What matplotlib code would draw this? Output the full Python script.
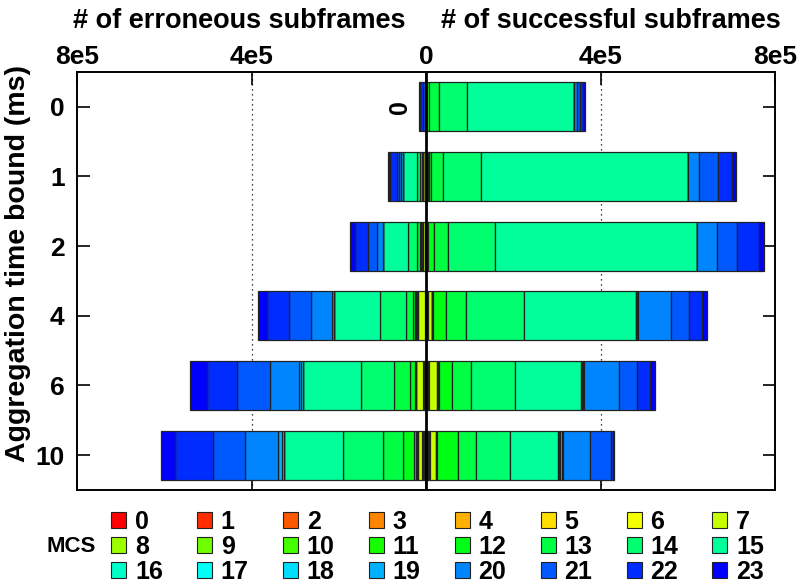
import numpy as np
import matplotlib.pyplot as plt
from matplotlib.colors import hsv_to_rgb
from matplotlib.patches import Patch

plt.rcParams['font.family'] = ['Liberation Sans', 'DejaVu Sans']
plt.rcParams['font.weight'] = 'bold'

# aggregation time bounds (ms), one bar each
bounds = ['0', '1', '2', '4', '6', '10']
mcs = list(range(24))

# subframe counts per MCS 0..23, in thousands
ok_0 = [0, 0, 0, 0, 0, 0, 0, 1.0, 0, 0, 0, 0, 6.7, 21.5, 65.3, 244.3, 0, 0, 0, 0, 7.7, 6.9, 5.4, 4.6]
ok_1 = [0, 0, 0, 0, 0, 0, 0, 3.0, 0, 0, 1.5, 2.2, 4.0, 27.7, 86.8, 475.6, 0, 0, 0, 0, 25.4, 43.8, 32.3, 7.7]
ok_2 = [0, 0, 0, 0, 0, 0, 1.0, 4.4, 0, 0, 0, 0, 13.8, 30.7, 107.6, 464.0, 0, 0, 0, 0, 46.1, 46.1, 48.4, 11.5]
ok_4 = [0, 0, 0, 0, 0, 2.0, 3.0, 8.8, 0, 0, 0, 2.0, 30.7, 44.6, 133.7, 255.9, 1.5, 1.0, 1.2, 1.7, 74.6, 42.3, 30.7, 10.0]
ok_6 = [0, 0, 0, 1.0, 1.5, 2.2, 3.0, 18.4, 1.0, 1.2, 1.2, 1.2, 28.4, 43.8, 100.6, 151.4, 2.0, 1.5, 2.0, 2.2, 79.1, 41.5, 29.2, 11.5]
ok_10 = [0, 0, 1.0, 1.5, 2.0, 2.5, 2.5, 13.0, 0.8, 0.8, 0.8, 0.8, 46.5, 43.0, 76.8, 110.6, 3.0, 2.5, 3.3, 3.5, 60.7, 48.4, 5.7, 2.0]

err_0 = [0, 0, 0, 0, 0, 0, 0, 0, 0, 0, 0, 0, 0, 0, 0, 1.5, 0, 0, 0, 0, 2.0, 3.5, 6.1, 3.8]
err_1 = [0, 0, 0, 0, 0, 0, 0, 6.1, 0, 1.0, 0, 1.0, 1.1, 4.6, 6.1, 32.3, 0, 0, 0, 5.4, 4.6, 5.4, 15.4, 3.8]
err_2 = [0, 0, 0, 0, 0, 0, 2.0, 5.0, 2.5, 1.5, 1.0, 1.0, 0.8, 6.2, 20.7, 57.6, 0, 0, 0, 0, 13.8, 20.7, 29.2, 11.5]
err_4 = [0, 0, 0, 0, 0, 1.5, 1.5, 15.4, 1.5, 1.5, 2.0, 2.8, 3.7, 16.1, 59.2, 106.0, 0, 0, 0, 5.4, 46.1, 51.4, 50.0, 21.5]
err_6 = [0, 0, 0, 1.0, 1.5, 2.2, 3.0, 15.4, 0.5, 0.5, 0.5, 0, 12.3, 36.9, 74.6, 134.5, 0, 0, 3.2, 6.0, 66.1, 74.6, 69.2, 38.4]
err_10 = [0, 0, 1.0, 1.5, 2.0, 2.5, 3.0, 9.0, 2.5, 1.3, 1.0, 3.0, 25.4, 46.1, 92.2, 136.0, 0, 0, 4.0, 9.8, 75.3, 72.2, 86.8, 32.3]

ok = np.array([ok_0, ok_1, ok_2, ok_4, ok_6, ok_10]) * 1e3
err = np.array([err_0, err_1, err_2, err_4, err_6, err_10]) * 1e3

# rainbow from red (MCS 0) to blue (MCS 23)
colors = [hsv_to_rgb((m / 23 * 2 / 3, 1, 1)) for m in mcs]

fig = plt.figure(figsize=(8, 5.84), dpi=100)
ax = fig.add_axes([0.0963, 0.161, 0.8725, 0.7157])

y = np.arange(len(bounds))
left_ok = np.zeros(len(bounds))
left_err = np.zeros(len(bounds))
for m in mcs:
    ax.barh(y, ok[:, m], left=left_ok, height=0.7, color=colors[m],
            edgecolor='#222222', linewidth=0.9, zorder=2)
    ax.barh(y, -err[:, m], left=-left_err, height=0.7, color=colors[m],
            edgecolor='#222222', linewidth=0.9, zorder=2)
    left_ok += ok[:, m]
    left_err += err[:, m]

ax.axvline(0, color='k', lw=2, zorder=5)
for gx in (-4e5, 4e5):
    ax.axvline(gx, color='k', lw=0.9, linestyle=(0, (1, 3)), zorder=1)

ax.text(-6e4, 0, '0', rotation=90, ha='center', va='center', fontsize=18, fontweight='bold')

ax.set_xlim(-8e5, 8e5)
ax.set_ylim(5.5, -0.5)
ax.set_xticks([-8e5, -4e5, 0, 4e5, 8e5])
ax.set_xticklabels(['8e5', '4e5', '0', '4e5', '8e5'])
ax.set_yticks(y)
ax.set_yticklabels(bounds)
ax.tick_params(axis='x', top=True, bottom=True, labeltop=True, labelbottom=False,
               direction='in', length=9, width=1.2, labelsize=19, pad=2)
ax.tick_params(axis='y', left=True, right=True, direction='in', length=9, width=1.2,
               labelsize=19, pad=9)
for s in ax.spines.values():
    s.set_linewidth(1.4)

ax.set_ylabel('Aggregation time bound (ms)', fontsize=20.5, fontweight='bold')
ax.yaxis.set_label_coords(-0.066, 0.543)

fig.text(0.299, 1 - 21 / 584, '# of erroneous subframes', ha='center', va='center',
         fontsize=19.5, fontweight='bold')
fig.text(0.764, 1 - 21 / 584, '# of successful subframes', ha='center', va='center',
         fontsize=19.5, fontweight='bold')

# legend: 3 rows x 8 columns, filled row by row
order = [r * 8 + c for c in range(8) for r in range(3)]
handles = [Patch(facecolor=colors[i], edgecolor='#222222', linewidth=0.8) for i in order]
labels = [str(i) for i in order]
fig.legend(handles, labels, ncol=8, loc='upper left', bbox_to_anchor=(0.139, 0.127),
           frameon=False, fontsize=18, handlelength=0.6, handleheight=0.6,
           handletextpad=0.35, columnspacing=1.37, labelspacing=0.04, borderpad=0,
           borderaxespad=0)
fig.text(0.12, 1 - 547 / 584, 'MCS', ha='right', va='center', fontsize=16, fontweight='bold')

fig.savefig('out.png', dpi=100)
